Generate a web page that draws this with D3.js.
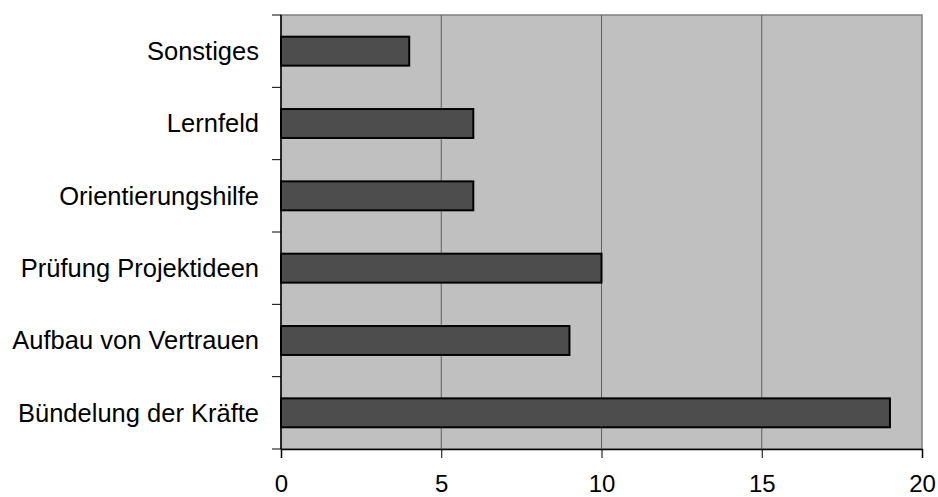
<!DOCTYPE html>
<html lang="de">
<head>
    <meta charset="UTF-8">
    <title>Balkendiagramm</title>
    <style>
        body, html {
            margin: 0;
            padding: 0;
            background: #fff;
            font-family: Arial, "Liberation Sans", sans-serif;
        }
        #chart { width: 938px; height: 497px; }
    </style>
    <script src="https://d3js.org/d3.v7.min.js"></script>
</head>
<body>
    <div id="chart"></div>
    <script>
        // data, top to bottom
        const categories = ["Sonstiges", "Lernfeld", "Orientierungshilfe", "Prüfung Projektideen", "Aufbau von Vertrauen", "Bündelung der Kräfte"];
        const values = [4, 6, 6, 10, 9, 19];
        const xTicks = [0, 5, 10, 15, 20];

        const margin = { top: 15, right: 16, bottom: 48, left: 281 },
            width = 938 - margin.left - margin.right,
            height = 497 - margin.top - margin.bottom;

        const svg = d3.select("#chart").append("svg")
            .attr("width", 938)
            .attr("height", 497)
            .append("g")
            .attr("transform", `translate(${margin.left},${margin.top})`);

        const x = d3.scaleLinear().domain([0, 20]).range([0, width]);
        const y = d3.scaleBand().domain(categories).range([0, height]).paddingInner(0.6).paddingOuter(0.3);
        const yb = d3.scaleBand().domain(categories).range([0, height]);

        // plot background
        svg.append("rect")
            .attr("width", width)
            .attr("height", height)
            .attr("fill", "#c0c0c0")
            .attr("stroke", "#808080")
            .attr("stroke-width", 1.5);

        // gridlines
        svg.selectAll(".grid")
            .data(xTicks.slice(1, -1))
            .enter().append("line")
            .attr("x1", d => x(d)).attr("x2", d => x(d))
            .attr("y1", 0).attr("y2", height)
            .attr("stroke", "#606060")
            .attr("stroke-width", 1);

        // bars
        svg.selectAll(".bar")
            .data(values)
            .enter().append("rect")
            .attr("x", x(0))
            .attr("y", (d, i) => y(categories[i]))
            .attr("width", d => x(d) - x(0))
            .attr("height", y.bandwidth())
            .attr("fill", "#4d4d4d")
            .attr("stroke", "#000")
            .attr("stroke-width", 2);

        // x axis
        const xAxis = svg.append("g")
            .attr("transform", `translate(0,${height})`)
            .call(d3.axisBottom(x).tickValues(xTicks).tickSize(9).tickPadding(16.5));
        xAxis.select(".domain").attr("stroke", "#000").attr("stroke-width", 1.5);
        xAxis.selectAll(".tick line").attr("stroke", "#000");
        xAxis.selectAll("text").style("font-size", "24px").attr("fill", "#000")
            .style("font-family", "Arial, 'Liberation Sans', sans-serif");

        // y axis: ticks at category boundaries
        svg.append("line")
            .attr("x1", 0).attr("x2", 0).attr("y1", 0).attr("y2", height)
            .attr("stroke", "#000").attr("stroke-width", 1.5);
        const bounds = categories.map(c => yb(c)).concat([height]);
        svg.selectAll(".ytick")
            .data(bounds)
            .enter().append("line")
            .attr("x1", -9).attr("x2", 0)
            .attr("y1", d => d).attr("y2", d => d)
            .attr("stroke", "#000");

        svg.selectAll(".ylabel")
            .data(categories)
            .enter().append("text")
            .attr("x", -22)
            .attr("y", d => yb(d) + yb.bandwidth() / 2)
            .attr("dy", "0.35em")
            .attr("text-anchor", "end")
            .style("font-size", "25.5px")
            .attr("fill", "#000")
            .text(d => d);
    </script>
</body>
</html>
